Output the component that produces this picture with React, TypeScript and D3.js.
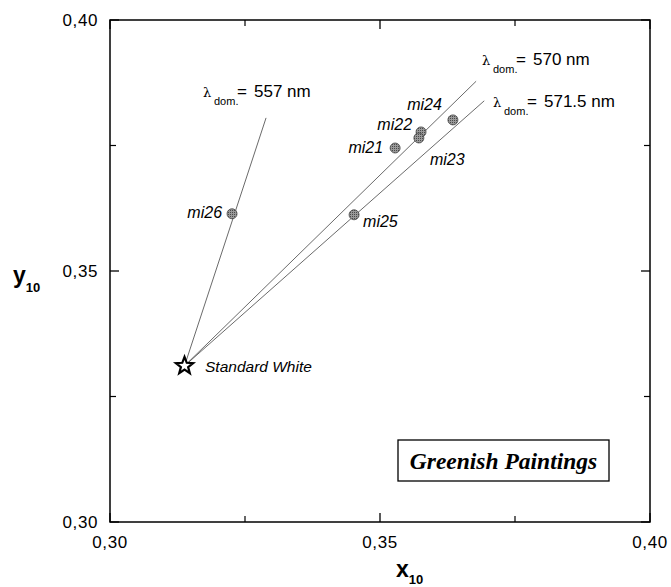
import React from "react";
import * as d3 from "d3";

const W = 671;
const H = 587;

const xTicks = [0.30, 0.35, 0.40];
const yTicks = [0.30, 0.35, 0.40];
const minorTicks = [0.325, 0.375];

const whitePoint = { x: 0.3138, y: 0.3311, label: "Standard White" };

const sampleNames = ["mi26", "mi25", "mi21", "mi22", "mi23", "mi24"];
const sampleX = [0.3226, 0.3452, 0.3528, 0.3576, 0.3572, 0.3635];
const sampleY = [0.3614, 0.3612, 0.3745, 0.3777, 0.3765, 0.3801];
// label placement (px) relative to the point
const labelDx = [-10, 9, -12, -9, 11, -11];
const labelDy = [4, 12, 5, -2, 27, -10];
const labelAnchor = ["end", "start", "end", "end", "start", "end"];

const lineNames = ["557", "570", "571.5"];
const lineEndX = [0.3289, 0.3678, 0.3693];
const lineEndY = [0.3805, 0.3878, 0.3839];
const lineLabelX = [203, 482, 493];
const lineLabelY = [97, 65, 107];

const fmt = (v: number) => v.toFixed(2).replace(".", ",");

export default function App() {
  const x = d3.scaleLinear().domain([0.30, 0.40]).range([110, 650]);
  const y = d3.scaleLinear().domain([0.30, 0.40]).range([522, 20]);
  const [x0, x1] = x.range();
  const [y0, y1] = y.range();
  const font = "'Liberation Sans', Arial, sans-serif";

  const starPath = (cx: number, cy: number, R: number, r: number) => {
    const pts: [number, number][] = [];
    for (let i = 0; i < 10; i++) {
      const a = -Math.PI / 2 + (i * Math.PI) / 5;
      const rad = i % 2 === 0 ? R : r;
      pts.push([cx + rad * Math.cos(a), cy + rad * Math.sin(a)]);
    }
    return d3.line()(pts) + "Z";
  };

  const tickEls: React.ReactNode[] = [];
  xTicks.forEach((t, i) => {
    tickEls.push(<line key={"xb" + i} x1={x(t)} x2={x(t)} y1={y0} y2={y0 - 9} stroke="#000" strokeWidth={1.3} />);
    tickEls.push(<line key={"xt" + i} x1={x(t)} x2={x(t)} y1={y1} y2={y1 + 9} stroke="#000" strokeWidth={1.3} />);
  });
  yTicks.forEach((t, i) => {
    tickEls.push(<line key={"yl" + i} x1={x0} x2={x0 + 9} y1={y(t)} y2={y(t)} stroke="#000" strokeWidth={1.3} />);
    tickEls.push(<line key={"yr" + i} x1={x1} x2={x1 - 9} y1={y(t)} y2={y(t)} stroke="#000" strokeWidth={1.3} />);
  });
  minorTicks.forEach((t, i) => {
    tickEls.push(<line key={"mxb" + i} x1={x(t)} x2={x(t)} y1={y0} y2={y0 - 6} stroke="#000" strokeWidth={1.2} />);
    tickEls.push(<line key={"mxt" + i} x1={x(t)} x2={x(t)} y1={y1} y2={y1 + 6} stroke="#000" strokeWidth={1.2} />);
    tickEls.push(<line key={"myl" + i} x1={x0} x2={x0 + 6} y1={y(t)} y2={y(t)} stroke="#000" strokeWidth={1.2} />);
    tickEls.push(<line key={"myr" + i} x1={x1} x2={x1 - 6} y1={y(t)} y2={y(t)} stroke="#000" strokeWidth={1.2} />);
  });

  return (
    <svg width={W} height={H} style={{ position: "absolute", left: 0, top: 0, background: "#fff" }}>
      <defs>
        <pattern id="hatch" width="2" height="2" patternUnits="userSpaceOnUse">
          <rect width="2" height="2" fill="#999" />
          <rect width="1" height="1" fill="#4a4a4a" />
        </pattern>
      </defs>
      <rect x={0} y={0} width={W} height={H} fill="#fff" />
      {/* frame */}
      <rect x={x0} y={y1} width={x1 - x0} height={y0 - y1} fill="none" stroke="#000" strokeWidth={1.5} />
      {tickEls}
      {/* tick labels */}
      {yTicks.map((t, i) => (
        <text key={"yl" + i} x={98} y={y(t) + 6} textAnchor="end" fontFamily={font} fontSize={17} letterSpacing={0.6}>
          {fmt(t)}
        </text>
      ))}
      {xTicks.map((t, i) => (
        <text key={"xl" + i} x={x(t)} y={548} textAnchor="middle" fontFamily={font} fontSize={17} letterSpacing={0.6}>
          {fmt(t)}
        </text>
      ))}
      {/* axis titles */}
      <text x={13} y={283} fontFamily={font} fontSize={23} fontWeight="bold">
        y<tspan fontSize={13} dy={9}>10</tspan>
      </text>
      <text x={396} y={577} fontFamily={font} fontSize={23} fontWeight="bold">
        x<tspan fontSize={13} dy={7}>10</tspan>
      </text>
      {/* dominant wavelength lines */}
      {lineNames.map((n, i) => (
        <line
          key={"ln" + i}
          x1={x(whitePoint.x)}
          y1={y(whitePoint.y)}
          x2={x(lineEndX[i])}
          y2={y(lineEndY[i])}
          stroke="#444"
          strokeWidth={0.8}
        />
      ))}
      {lineNames.map((n, i) => {
        const L = lineLabelX[i];
        const B = lineLabelY[i];
        return (
          <text key={"lt" + i} fontFamily={font} fontSize={17} fill="#000">
            <tspan x={L} y={B} fontFamily="'DejaVu Serif', serif" fontSize={13}>λ</tspan>
            <tspan x={L + 11} y={B + 8} fontSize={11}>dom.</tspan>
            <tspan x={L + 34} y={B}>=</tspan>
            <tspan x={L + 51} y={B}>{n} nm</tspan>
          </text>
        );
      })}
      {/* samples */}
      {sampleNames.map((n, i) => (
        <circle
          key={"c" + i}
          cx={x(sampleX[i])}
          cy={y(sampleY[i])}
          r={5}
          fill="url(#hatch)"
          stroke="#444"
          strokeWidth={0.8}
        />
      ))}
      {sampleNames.map((n, i) => (
        <text
          key={"s" + i}
          x={x(sampleX[i]) + labelDx[i]}
          y={y(sampleY[i]) + labelDy[i]}
          textAnchor={labelAnchor[i]}
          fontFamily={font}
          fontSize={16}
          fontStyle="italic"
        >
          {n}
        </text>
      ))}
      {/* standard white */}
      <path
        d={starPath(x(whitePoint.x), y(whitePoint.y), 9, 3.8)}
        fill="#fff"
        stroke="#000"
        strokeWidth={2.2}
        strokeLinejoin="miter"
      />
      <text x={205} y={372} fontFamily={font} fontSize={15.5} fontStyle="italic">
        {whitePoint.label}
      </text>
      {/* legend box */}
      <rect x={398} y={440} width={211} height={41} fill="#fff" stroke="#000" strokeWidth={1.3} />
      <text
        x={503.5}
        y={469}
        textAnchor="middle"
        fontFamily="'Liberation Serif', 'Times New Roman', serif"
        fontSize={23.5}
        fontWeight="bold"
        fontStyle="italic"
      >
        Greenish Paintings
      </text>
    </svg>
  );
}
